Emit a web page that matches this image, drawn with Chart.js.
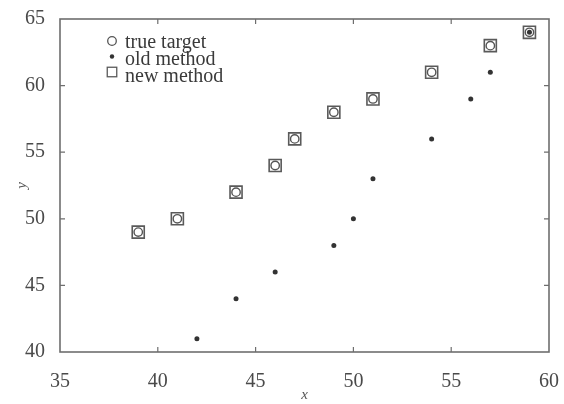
<!DOCTYPE html>
<html>
<head>
<meta charset="utf-8">
<script src="https://cdn.jsdelivr.net/npm/chart.js@4/dist/chart.umd.min.js"></script>
<style>
  html, body { margin: 0; padding: 0; background: #fff; }
  #wrap { width: 564px; height: 404px; position: relative; }
</style>
</head>
<body>
<div id="wrap"><canvas id="c" width="564" height="404"></canvas></div>
<script>
// ---- data ----
const seriesNames = ['true target', 'old method', 'new method'];
const trueX = [39, 41, 44, 46, 47, 49, 51, 54, 57, 59];
const trueY = [49, 50, 52, 54, 56, 58, 59, 61, 63, 64];
const oldX  = [42, 44, 46, 49, 50, 51, 54, 56, 57, 59];
const oldY  = [41, 44, 46, 48, 50, 53, 56, 59, 61, 64];
const newX  = [39, 41, 44, 46, 47, 49, 51, 54, 57, 59];
const newY  = [49, 50, 52, 54, 56, 58, 59, 61, 63, 64];
const xTicks = [35, 40, 45, 50, 55, 60];
const yTicks = [40, 45, 50, 55, 60, 65];
const xTitle = 'x';
const yTitle = 'y';

const toPts = (xs, ys) => xs.map((x, i) => ({ x: x, y: ys[i] }));
const SERIF = '"Liberation Serif", "DejaVu Serif", "Times New Roman", serif';
const FRAME = '#6e6e6e';

// frame + inward ticks
const framePlugin = {
  id: 'frame',
  afterDraw(chart) {
    const { ctx, chartArea: a, scales } = chart;
    ctx.save();
    ctx.strokeStyle = FRAME;
    ctx.lineWidth = 1.6;
    ctx.strokeRect(a.left, a.top, a.right - a.left, a.bottom - a.top);
    ctx.lineWidth = 1.2;
    const L = 5;
    ctx.beginPath();
    xTicks.forEach(v => {
      const px = scales.x.getPixelForValue(v);
      if (px <= a.left + 1 || px >= a.right - 1) return;
      ctx.moveTo(px, a.bottom); ctx.lineTo(px, a.bottom - L);
      ctx.moveTo(px, a.top); ctx.lineTo(px, a.top + L);
    });
    yTicks.forEach(v => {
      const py = scales.y.getPixelForValue(v);
      if (py <= a.top + 1 || py >= a.bottom - 1) return;
      ctx.moveTo(a.left, py); ctx.lineTo(a.left + L, py);
      ctx.moveTo(a.right, py); ctx.lineTo(a.right - L, py);
    });
    ctx.stroke();
    ctx.restore();
  }
};

// legend drawn inside the plot area (top-left)
const innerLegend = {
  id: 'innerLegend',
  afterDraw(chart) {
    const { ctx, chartArea: a } = chart;
    const mx = a.left + 52, tx = a.left + 65;
    const ty0 = a.top + 24, tdy = 17;
    const my0 = a.top + 22, mdy = 15.5;
    ctx.save();
    ctx.font = '20px ' + SERIF;
    ctx.textBaseline = 'middle';
    ctx.textAlign = 'left';
    chart.data.datasets.forEach((ds, i) => {
      const y = my0 + i * mdy;
      ctx.strokeStyle = ds.borderColor;
      ctx.fillStyle = ds.backgroundColor;
      ctx.lineWidth = 1.3;
      if (ds.pointStyle === 'circle' && ds.pointRadius > 3) {
        ctx.beginPath(); ctx.arc(mx, y, 4.3, 0, Math.PI * 2); ctx.stroke();
      } else if (ds.pointStyle === 'circle') {
        ctx.beginPath(); ctx.arc(mx, y, 2.2, 0, Math.PI * 2); ctx.fill();
      } else {
        ctx.strokeRect(mx - 4.75, y - 4.75, 9.5, 9.5);
      }
      ctx.fillStyle = '#3a3a3a';
      ctx.fillText(ds.label, tx, ty0 + i * tdy);
    });
    ctx.restore();
  }
};

new Chart(document.getElementById('c'), {
  type: 'scatter',
  data: {
    datasets: [
      { label: seriesNames[0], data: toPts(trueX, trueY), pointStyle: 'circle', pointRadius: 4.2,
        borderColor: '#555', backgroundColor: 'rgba(255,255,255,0)', borderWidth: 1.4, pointHoverRadius: 4.2 },
      { label: seriesNames[1], data: toPts(oldX, oldY), pointStyle: 'circle', pointRadius: 2.5,
        borderColor: '#333', backgroundColor: '#333', borderWidth: 0, pointHoverRadius: 2.5 },
      { label: seriesNames[2], data: toPts(newX, newY), pointStyle: 'rect', pointRadius: 8.5,
        borderColor: '#5a5a5a', backgroundColor: 'rgba(255,255,255,0)', borderWidth: 1.6, pointHoverRadius: 8.5 }
    ]
  },
  options: {
    responsive: false,
    animation: false,
    layout: { padding: { top: 19, right: 15, left: 0, bottom: 0 } },
    plugins: { legend: { display: false }, tooltip: { enabled: false } },
    scales: {
      x: {
        type: 'linear', min: 35, max: 60,
        afterBuildTicks: s => { s.ticks = xTicks.map(v => ({ value: v })); },
        afterFit: s => { s.height = 52; s.paddingLeft = 0; s.paddingRight = 0; },
        grid: { display: false }, border: { display: false },
        ticks: { color: '#4a4a4a', padding: 10, font: { family: SERIF, size: 20 } },
        title: { display: true, text: xTitle, color: '#555', padding: { top: 0, bottom: 0 },
                 font: { family: SERIF, size: 15, style: 'italic' } }
      },
      y: {
        type: 'linear', min: 40, max: 65,
        afterBuildTicks: s => { s.ticks = yTicks.map(v => ({ value: v })); },
        afterFit: s => { s.width = 60; s.paddingTop = 0; s.paddingBottom = 0; },
        grid: { display: false }, border: { display: false },
        ticks: { color: '#4a4a4a', padding: 7, font: { family: SERIF, size: 20 } },
        title: { display: true, text: yTitle, color: '#555', padding: { top: 13, bottom: 0 },
                 font: { family: SERIF, size: 15, style: 'italic' } }
      }
    }
  },
  plugins: [framePlugin, innerLegend]
});
</script>
</body>
</html>
